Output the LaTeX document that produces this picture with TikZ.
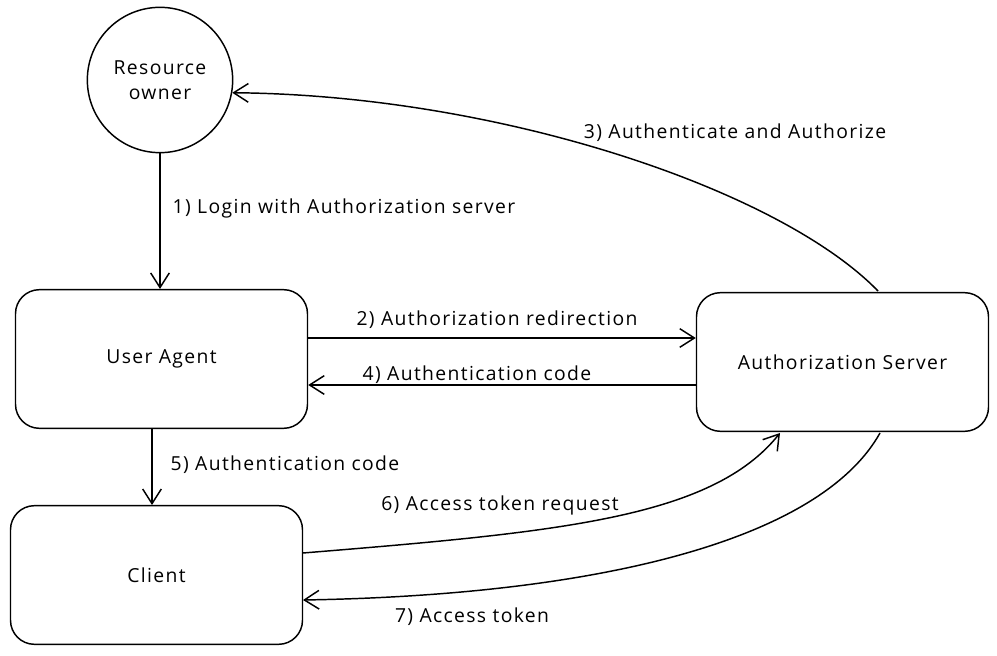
\documentclass[tikz,border=0pt]{standalone}
\usepackage{fontspec}
\setmainfont[LetterSpace=7]{Open Sans}
\usetikzlibrary{arrows.meta,calc}
\begin{document}
\begin{tikzpicture}[x=0.75pt,y=-0.75pt,
  line width=1.1pt,
  fnt/.style={font=\fontsize{14.5}{18}\selectfont},
  box/.style={draw,rounded corners=18pt,minimum width=219pt,minimum height=104pt,inner sep=0pt,fnt},
  circ/.style={draw,circle,minimum size=109pt,inner sep=0pt,align=center,font=\fontsize{14.5}{19}\selectfont},
  lbl/.style={inner sep=0pt,fnt},
  arr/.style={-{Straight Barb[length=11pt,width=14pt,line width=1.1pt]}}]
\useasboundingbox (0,0) rectangle (997,656);
\node[circ] (ro) at (160,80) {Resource\\owner};
\node[box] (ua) at (161.5,359) {User Agent};
\node[box] (as) at (842.5,362) {Authorization Server};
\node[box] (cl) at (156.5,575) {Client};
% arrows
\draw[arr] (ro.south) -- (ua.north -| ro.south);
\draw[arr] (ua.east |- 0,338) -- (as.west |- 0,338);
\draw[arr] (as.west |- 0,385) -- (ua.east |- 0,385);
\coordinate (s3) at (878,291);
\draw[arr] (s3) .. controls (780,190) and (500,95) .. (ro.-10);
\coordinate (s5) at (152,428);
\draw[arr] (s5) -- (152,505);
\coordinate (s6) at (303,553);
\coordinate (e6) at (780,433);
\draw[arr] (s6) .. controls (560,532) and (712,518) .. (e6);
\coordinate (s7) at (880,433);
\coordinate (e7) at (303,600);
\draw[arr] (s7) .. controls (820,540) and (600,595) .. (e7);
% labels
\node[lbl,anchor=west] (l1) at (172,208) {1) Login with Authorization server};
\node[lbl] (l2) at (497,320) {2) Authorization redirection};
\node[lbl] (l3) at (735,133) {3) Authenticate and Authorize};
\node[lbl] (l4) at (477,375) {4) Authentication code};
\node[lbl,anchor=west] (l5) at (170,465) {5) Authentication code};
\node[lbl] (l6) at (500,505) {6) Access token request};
\node[lbl] (l7) at (472,617) {7) Access token};
\end{tikzpicture}
\end{document}
